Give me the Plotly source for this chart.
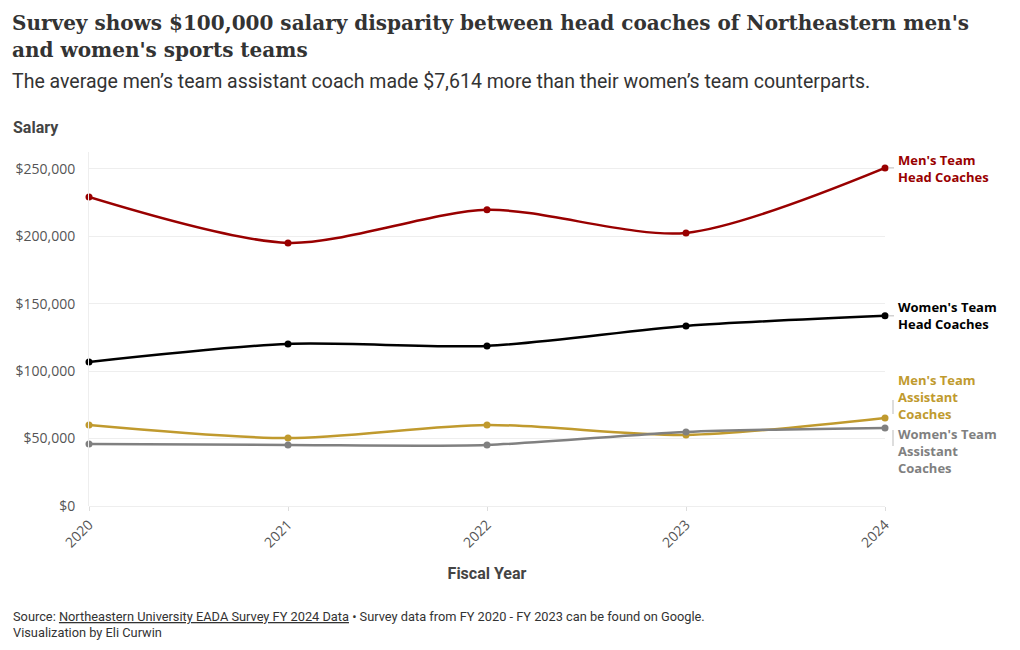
import plotly.graph_objects as go

years = [2020, 2021, 2022, 2023, 2024]
mens_head = [229200, 195100, 219600, 202500, 250700]
womens_head = [106800, 120200, 118700, 133500, 141000]
mens_asst = [60100, 50400, 60100, 52700, 65300]
womens_asst = [46000, 45300, 45300, 54900, 57900]
y_ticks = [0, 50000, 100000, 150000, 200000, 250000]
y_tick_labels = ["$0", "$50,000", "$100,000", "$150,000", "$200,000", "$250,000"]

series_names = ["Men's Team Head Coaches", "Women's Team Head Coaches",
                "Men's Team Assistant Coaches", "Women's Team Assistant Coaches"]
series_values = [mens_head, womens_head, mens_asst, womens_asst]
colors = ["#990000", "#000000", "#C09A2E", "#808080"]

OFF = 8  # page body margin
W, H = 1020 - OFF, 650 - OFF
PL, PR, PT, PB = 89, 885, 152, 506   # plot area in reference pixels
L, T = PL - OFF, PT - OFF
R, B = W - (PR - OFF), H - (PB - OFF)

fig = go.Figure()
for name, vals, c in zip(series_names, series_values, colors):
    fig.add_trace(go.Scatter(
        x=years, y=vals, name=name, mode="lines+markers",
        line=dict(color=c, width=2.5, shape="spline", smoothing=0.8),
        marker=dict(color=c, size=7),
        hovertemplate="%{x}: $%{y:,.0f}<extra>" + name + "</extra>",
        cliponaxis=False,
    ))

def px_x(px):
    return (px - PL) / (PR - PL)

def px_y(py):
    return (PB - py) / (PB - PT)

ann = []
title_font = dict(family="DejaVu Serif", size=20, color="#333333", weight="bold")
ann.append(dict(text="Survey shows $100,000 salary disparity between head coaches of Northeastern men's",
                x=px_x(10), y=px_y(23), xanchor="left", yanchor="middle", font=title_font))
ann.append(dict(text="and women's sports teams",
                x=px_x(10), y=px_y(50), xanchor="left", yanchor="middle", font=title_font))
ann.append(dict(text="The average men’s team assistant coach made $7,614 more than their women’s team counterparts.",
                x=px_x(10), y=px_y(81), xanchor="left", yanchor="middle",
                font=dict(family="Roboto", size=19.5, color="#333333")))
ann.append(dict(text="<b>Salary</b>", x=px_x(11), y=px_y(128), xanchor="left", yanchor="middle",
                font=dict(family="Roboto", size=16, color="#444444")))
ann.append(dict(text="Source: <u>Northeastern University EADA Survey FY 2024 Data</u> • Survey data from FY 2020 - FY 2023 can be found on Google.",
                x=px_x(11), y=px_y(616), xanchor="left", yanchor="middle",
                font=dict(family="Roboto", size=12.8, color="#333333")))
ann.append(dict(text="Visualization by Eli Curwin",
                x=px_x(11), y=px_y(632), xanchor="left", yanchor="middle",
                font=dict(family="Roboto", size=12.8, color="#333333")))

# Right-side series labels (label text, anchor value, vertical pixel centre in reference)
label_specs = [
    ("Men's Team<br>Head Coaches", mens_head[-1], 168),
    ("Women's Team<br>Head Coaches", womens_head[-1], 315),
    ("Men's Team<br>Assistant<br>Coaches", mens_asst[-1], 397),
    ("Women's Team<br>Assistant<br>Coaches", womens_asst[-1], 451),
]
for (txt, yval, pyc), c in zip(label_specs, colors):
    ann.append(dict(text="<b>" + txt + "</b>", x=1, y=px_y(pyc), xref="paper", yref="paper",
                    xanchor="left", yanchor="middle", align="left", xshift=11,
                    font=dict(family="Open Sans", size=13, color=c)))
for a in ann:
    a.setdefault("xref", "paper")
    a.setdefault("yref", "paper")
    a["showarrow"] = False

shapes = []
for yval in [mens_head[-1], womens_head[-1]]:
    shapes.append(dict(type="line", xref="paper", yref="y", x0=px_x(889), x1=px_x(894),
                       y0=yval, y1=yval, line=dict(color="#bbbbbb", width=1)))
for (pyt, pyb) in [(400, 414), (430, 446)]:
    shapes.append(dict(type="line", xref="paper", yref="paper", x0=px_x(893), x1=px_x(893),
                       y0=px_y(pyt), y1=px_y(pyb), line=dict(color="#bbbbbb", width=1)))

fig.update_layout(
    width=W, height=H,
    margin=dict(l=L, r=R, t=T, b=B, autoexpand=False),
    paper_bgcolor="white", plot_bgcolor="white",
    showlegend=False,
    annotations=ann, shapes=shapes,
    font=dict(family="Open Sans", color="#555555"),
    xaxis=dict(
        tickmode="array", tickvals=years, ticktext=[str(y) for y in years],
        range=[2020, 2024], tickangle=-45, showgrid=False, zeroline=False,
        ticks="outside", ticklen=4, tickcolor="#dddddd",
        tickfont=dict(family="Open Sans", size=14, color="#555555"),
        title=dict(text="<b>Fiscal Year</b>", font=dict(family="Roboto", size=16, color="#444444"), standoff=17),
        showline=False,
    ),
    yaxis=dict(
        range=[0, 262500], tickmode="array", tickvals=y_ticks, ticktext=y_tick_labels,
        showgrid=True, gridcolor="#eeeeee", gridwidth=1,
        zeroline=True, zerolinecolor="#eeeeee", zerolinewidth=1,
        showline=True, linecolor="#eeeeee", linewidth=1,
        ticks="", ticklabelstandoff=10,
        tickfont=dict(family="Open Sans", size=14, color="#555555"),
    ),
)

fig.write_html("out.html")
